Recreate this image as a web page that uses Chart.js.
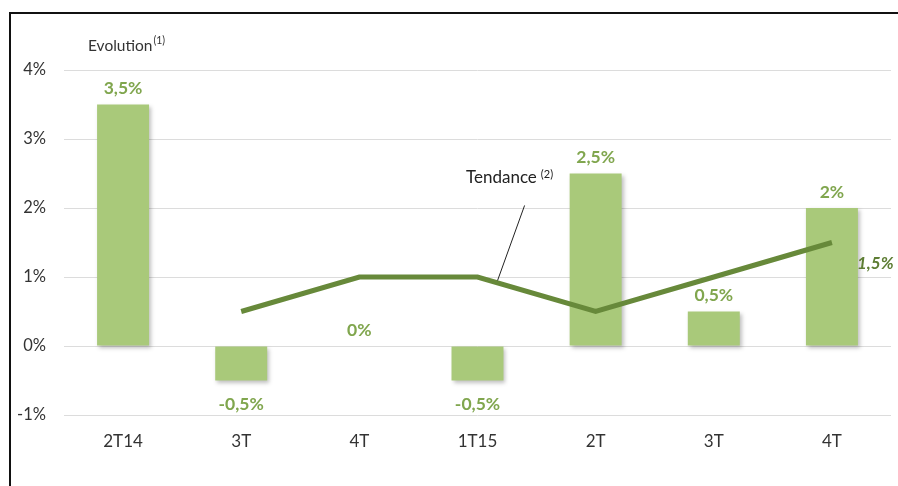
<!DOCTYPE html>
<html>
<head>
<meta charset="utf-8">
<script src="https://cdn.jsdelivr.net/npm/chart.js@4/dist/chart.umd.min.js"></script>
<style>
  html, body { margin: 0; padding: 0; background: #fff; }
  #wrap { width: 898px; height: 486px; }
</style>
</head>
<body>
<div id="wrap"><canvas id="myChart" width="898" height="486"></canvas></div>
<script>
const quarters = ['2T14', '3T', '4T', '1T15', '2T', '3T', '4T'];
const evolution = [3.5, -0.5, 0, -0.5, 2.5, 0.5, 2];
const evolutionLabels = ['3,5%', '-0,5%', '0%', '-0,5%', '2,5%', '0,5%', '2%'];
const trend = [null, 0.5, 1, 1, 0.5, 1, 1.5];
const trendEndLabel = '1,5%';
const yTicks = [-1, 0, 1, 2, 3, 4];

const barGreen = '#a9c97a';
const labelGreen = '#80a64e';
const lineGreen = '#67893a';
const font = 'Lato, "Open Sans", sans-serif';

// frame, titles, value labels and the trend callout
const decorations = {
  id: 'decorations',
  beforeDatasetDraw(chart, args) {
    if (args.index === 0) {
      const ctx = chart.ctx;
      ctx.save();
      ctx.shadowColor = 'rgba(0,0,0,0.25)';
      ctx.shadowBlur = 4;
      ctx.shadowOffsetX = 2;
      ctx.shadowOffsetY = 2;
    }
  },
  afterDatasetDraw(chart, args) {
    if (args.index === 0) chart.ctx.restore();
  },
  afterDraw(chart) {
    const ctx = chart.ctx;
    const x = chart.scales.x, y = chart.scales.y;
    ctx.save();

    // frame
    ctx.strokeStyle = '#111';
    ctx.lineWidth = 2;
    ctx.beginPath();
    ctx.moveTo(10, 486);
    ctx.lineTo(10, 13);
    ctx.lineTo(898, 13);
    ctx.stroke();

    // axis title
    ctx.fillStyle = '#333';
    ctx.textBaseline = 'middle';
    ctx.textAlign = 'left';
    ctx.font = '15.5px ' + font;
    ctx.fillText('Evolution', 88, 46);
    let w = ctx.measureText('Evolution').width;
    ctx.font = '10.5px ' + font;
    ctx.fillText('(1)', 88 + w + 1, 41);

    // bar value labels
    ctx.font = 'bold 17.5px ' + font;
    ctx.fillStyle = labelGreen;
    ctx.textAlign = 'center';
    evolution.forEach((v, i) => {
      const px = x.getPixelForValue(i);
      const py = v < 0 ? y.getPixelForValue(v) + 24 : y.getPixelForValue(v) - 16;
      ctx.fillText(evolutionLabels[i], px, py);
    });

    // trend end label
    const last = trend.length - 1;
    ctx.font = 'italic bold 17px ' + font;
    ctx.fillStyle = '#5d7d33';
    ctx.textAlign = 'left';
    ctx.fillText(trendEndLabel, x.getPixelForValue(last) + 25, y.getPixelForValue(trend[last]) + 21);

    // callout
    const ax = x.getPixelForValue(3) + 0.17 * (x.getPixelForValue(4) - x.getPixelForValue(3));
    const ay = y.getPixelForValue(0.95);
    ctx.strokeStyle = '#222';
    ctx.lineWidth = 1;
    ctx.beginPath();
    ctx.moveTo(ax, ay);
    ctx.lineTo(ax + 27, ay - 75);
    ctx.stroke();
    ctx.fillStyle = '#222';
    ctx.font = '17px ' + font;
    ctx.fillText('Tendance', 466, 178);
    w = ctx.measureText('Tendance').width;
    ctx.font = '11px ' + font;
    ctx.fillText('(2)', 466 + w + 4, 174);

    ctx.restore();
  }
};

new Chart(document.getElementById('myChart'), {
  type: 'bar',
  data: {
    labels: quarters,
    datasets: [
      {
        type: 'bar',
        data: evolution,
        backgroundColor: barGreen,
        borderWidth: 0,
        barPercentage: 0.44,
        categoryPercentage: 1,
        order: 1
      },
      {
        type: 'line',
        data: trend,
        borderColor: lineGreen,
        borderWidth: 5,
        pointRadius: 0,
        tension: 0,
        spanGaps: false,
        order: 0
      }
    ]
  },
  options: {
    responsive: false,
    animation: false,
    events: [],
    layout: { padding: { top: 70, right: 7, bottom: 31, left: 0 } },
    plugins: { legend: { display: false }, tooltip: { enabled: false } },
    scales: {
      x: {
        grid: { display: false, drawTicks: false },
        border: { display: false },
        ticks: { color: '#333', font: { family: font, size: 17 }, padding: 16 },
        afterFit(axis) { axis.height = 40; }
      },
      y: {
        min: yTicks[0],
        max: yTicks[yTicks.length - 1],
        afterBuildTicks(axis) { axis.ticks = yTicks.map(v => ({ value: v })); },
        grid: { color: '#dcdcdc', lineWidth: 1, drawTicks: false },
        border: { display: false },
        ticks: {
          color: '#333',
          font: { family: font, size: 16.5 },
          padding: 18,
          callback: v => v + '%'
        },
        afterFit(axis) { axis.width = 64; }
      }
    }
  },
  plugins: [decorations]
});
</script>
</body>
</html>
